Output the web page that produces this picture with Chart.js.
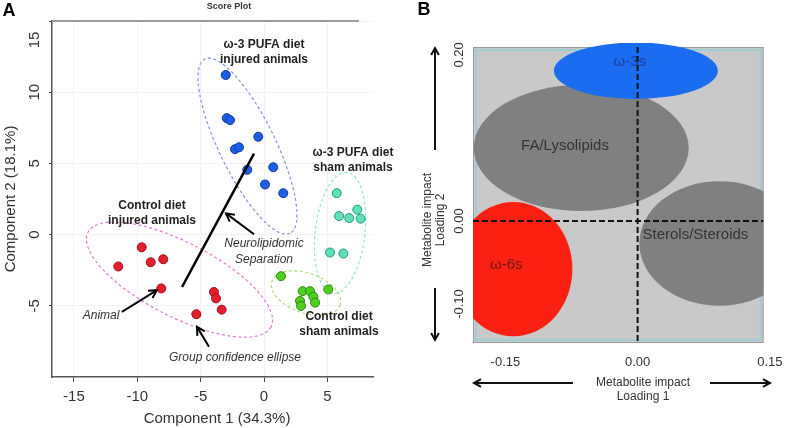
<!DOCTYPE html>
<html>
<head>
<meta charset="utf-8">
<script src="https://cdn.jsdelivr.net/npm/chart.js@4.4.0/dist/chart.umd.min.js"></script>
<style>
    body { margin: 0; background: #fff; }
    #wrap { position: relative; width: 794px; height: 428px; overflow: hidden; }
    #chartA { position: absolute; left: 0; top: 0; }
    #chartB { position: absolute; left: 400px; top: 0; }
</style>
</head>
<body>
<div id="wrap">
    <canvas id="chartA" width="400" height="428"></canvas>
    <canvas id="chartB" width="394" height="428"></canvas>
</div>
<script>
// ---------- Panel A : score plot ----------
const xTicksA = [-15, -10, -5, 0, 5];
const yTicksA = [-5, 0, 5, 10, 15];

const omega3Injured = [[-3.02, 11.21], [-2.94, 8.18], [-2.68, 8.04], [-0.45, 6.87], [-2.29, 6.00],
    [-1.97, 6.13], [0.73, 4.73], [-1.32, 4.55], [0.08, 3.52], [1.52, 2.91]];
const omega3Sham = [[5.74, 2.91], [7.36, 1.75], [5.92, 1.30], [6.73, 1.16], [7.63, 1.12],
    [5.21, -1.26], [6.26, -1.33]];
const controlSham = [[1.34, -2.92], [3.05, -3.97], [3.63, -3.97], [5.07, -3.85], [3.89, -4.36],
    [2.84, -4.66], [4.03, -4.78], [2.92, -5.01]];
const controlInjured = [[-9.65, -0.89], [-7.95, -1.73], [-8.94, -1.94], [-11.50, -2.24], [-8.11, -3.78],
    [-3.95, -4.03], [-3.79, -4.48], [-3.34, -5.27], [-5.34, -5.59]];

// confidence ellipses: major axis ends (x1, y1, x2, y2) + minor/major ratio
const ellipseOmega3Injured = [-4.66, 12.33, 2.05, 0.09, 0.29];
const ellipseOmega3Sham = [6.55, 4.36, 5.45, -4.11, 0.41];
const ellipseControlSham = [0.63, -3.27, 6.0, -4.94, 0.55];
const ellipseControlInjured = [-13.89, 0.16, 0.55, -6.48, 0.36];

// neurolipidomic separation axis
const separationLine = [[-6.47, -3.68], [-0.79, 5.69]];

// ---------- Panel B : loadings ----------
const xTicksB = [-0.15, 0, 0.15];
const xTickLabelsB = ['-0.15', '0.00', '0.15'];
const yTicksB = [-0.10, 0, 0.20];
const yTickLabelsB = ['-0.10', '0.00', '0.20'];

const lipidClasses = ['FA/Lysolipids', 'Sterols/Steroids', 'ω-3s', 'ω-6s'];
const loading1 = [-0.064, 0.093, -0.002, -0.141];
const loading2 = [0.088, -0.027, 0.181, -0.058];
const spread1 = [0.122, 0.091, 0.093, 0.067];
const spread2 = [0.076, 0.075, 0.034, 0.081];

const FONT = "'Liberation Sans', Arial, Helvetica, sans-serif";

function txt(ctx, str, px, py, font, color, align, rot) {
    ctx.save();
    ctx.translate(px, py);
    if (rot) ctx.rotate(rot);
    ctx.font = font;
    ctx.fillStyle = color;
    ctx.textAlign = align || 'center';
    ctx.textBaseline = 'middle';
    ctx.fillText(str, 0, 0);
    ctx.restore();
}

function arrow(ctx, x1, y1, x2, y2, head) {
    ctx.beginPath();
    ctx.moveTo(x1, y1);
    ctx.lineTo(x2, y2);
    ctx.stroke();
    const ang = Math.atan2(y2 - y1, x2 - x1);
    ctx.beginPath();
    ctx.moveTo(x2 - head * Math.cos(ang - 0.5), y2 - head * Math.sin(ang - 0.5));
    ctx.lineTo(x2, y2);
    ctx.lineTo(x2 - head * Math.cos(ang + 0.5), y2 - head * Math.sin(ang + 0.5));
    ctx.stroke();
}

// annotation text, placed in data units of panel A
const groupNotes = [
    { lines: ['ω-3 PUFA diet', 'injured animals'], at: [0.0, 13.31] },
    { lines: ['ω-3 PUFA diet', 'sham animals'], at: [7.02, 5.76] },
    { lines: ['Control diet', 'injured animals'], at: [-8.84, 2.05] },
    { lines: ['Control diet', 'sham animals'], at: [5.92, -5.78] }
];
const pointerNotes = [
    { lines: ['Neurolipidomic', 'Separation'], at: [0.0, -0.61], from: [-0.79, 0.02], to: [-3.0, 1.49] },
    { lines: ['Animal'], at: [-12.86, -5.71], from: [-11.21, -5.43], to: [-8.45, -3.9] },
    { lines: ['Group confidence ellipse'], at: [-2.29, -8.64], from: [-4.34, -7.88], to: [-5.29, -6.48] }
];

const scorePlotDecor = {
    id: 'scorePlotDecor',
    beforeDatasetsDraw(chart) {
        const { ctx, scales: { x, y } } = chart;
        const ellipses = [ellipseOmega3Injured, ellipseOmega3Sham, ellipseControlSham, ellipseControlInjured];
        const colors = ['#7d93df', '#8fe3dc', '#a8df72', '#e07ad8'];
        ctx.save();
        ctx.lineWidth = 1.2;
        ctx.setLineDash([3, 2.5]);
        ellipses.forEach((e, i) => {
            const x1 = x.getPixelForValue(e[0]), y1 = y.getPixelForValue(e[1]);
            const x2 = x.getPixelForValue(e[2]), y2 = y.getPixelForValue(e[3]);
            const a = Math.hypot(x2 - x1, y2 - y1) / 2;
            ctx.strokeStyle = colors[i];
            ctx.beginPath();
            ctx.ellipse((x1 + x2) / 2, (y1 + y2) / 2, a, a * e[4], Math.atan2(y2 - y1, x2 - x1), 0, Math.PI * 2);
            ctx.stroke();
        });
        ctx.restore();
    },
    afterDraw(chart) {
        const { ctx, chartArea: area, scales: { x, y } } = chart;
        ctx.save();

        // top frame line
        ctx.strokeStyle = '#9a9a9a';
        ctx.lineWidth = 2;
        ctx.beginPath();
        ctx.moveTo(area.left, area.top);
        ctx.lineTo(area.right - 14, area.top);
        ctx.stroke();

        // separation line
        ctx.strokeStyle = '#000';
        ctx.lineWidth = 2.5;
        ctx.beginPath();
        ctx.moveTo(x.getPixelForValue(separationLine[0][0]), y.getPixelForValue(separationLine[0][1]));
        ctx.lineTo(x.getPixelForValue(separationLine[1][0]), y.getPixelForValue(separationLine[1][1]));
        ctx.stroke();

        groupNotes.forEach(n => {
            const px = x.getPixelForValue(n.at[0]), py = y.getPixelForValue(n.at[1]);
            n.lines.forEach((s, k) => txt(ctx, s, px, py + k * 15, 'bold 12px ' + FONT, '#222'));
        });

        ctx.lineWidth = 2;
        pointerNotes.forEach(n => {
            const px = x.getPixelForValue(n.at[0]), py = y.getPixelForValue(n.at[1]);
            n.lines.forEach((s, k) => txt(ctx, s, px, py + k * 16, 'italic 12px ' + FONT, '#333'));
            arrow(ctx, x.getPixelForValue(n.from[0]), y.getPixelForValue(n.from[1]),
                x.getPixelForValue(n.to[0]), y.getPixelForValue(n.to[1]), 9);
        });

        // rotated y tick labels (top one kept inside the frame, as in the figure)
        yTicksA.forEach(v => {
            const py = Math.max(y.getPixelForValue(v), area.top + 19);
            txt(ctx, String(v), 35, py, '15px ' + FONT, '#333', 'center', -Math.PI / 2);
        });

        txt(ctx, 'Component 2 (18.1%)', 11, (area.top + area.bottom) / 2, '15px ' + FONT, '#333', 'center', -Math.PI / 2);
        txt(ctx, 'Component 1 (34.3%)', 217, 419, '15px ' + FONT, '#333');
        txt(ctx, 'Score Plot', 229, 7, 'bold 9px ' + FONT, '#333');
        txt(ctx, 'A', 9, 11, 'bold 18px ' + FONT, '#000');
        ctx.restore();
    }
};

function scoreSet(label, pts, fill, edge) {
    return {
        label: label,
        data: pts.map(p => ({ x: p[0], y: p[1] })),
        backgroundColor: fill,
        borderColor: edge,
        borderWidth: 1,
        pointRadius: 4.5
    };
}

new Chart(document.getElementById('chartA'), {
    type: 'scatter',
    data: {
        datasets: [
            scoreSet('ω-3 PUFA diet injured', omega3Injured, '#1c5fe6', '#0e3a9c'),
            scoreSet('ω-3 PUFA diet sham', omega3Sham, '#5fe0b8', '#22997a'),
            scoreSet('Control diet sham', controlSham, '#4fcf1f', '#2c8a12'),
            scoreSet('Control diet injured', controlInjured, '#e41f2d', '#9c1018')
        ]
    },
    options: {
        responsive: false,
        animation: false,
        layout: { padding: { top: 21, right: 27, left: 0, bottom: 0 } },
        plugins: { legend: { display: false }, tooltip: { enabled: false } },
        scales: {
            x: {
                type: 'linear', min: -16.73, max: 8.6,
                afterBuildTicks: s => { s.ticks = xTicksA.map(v => ({ value: v })); },
                afterFit: s => { s.height = 51; },
                grid: { color: '#f2f2f2', tickColor: '#444', tickLength: 5 },
                border: { color: '#555', width: 1.5 },
                ticks: { color: '#333', font: { family: FONT, size: 15 }, padding: 6, maxRotation: 0, minRotation: 0, autoSkip: false }
            },
            y: {
                type: 'linear', min: -10, max: 15,
                afterBuildTicks: s => { s.ticks = yTicksA.map(v => ({ value: v })); },
                afterFit: s => { s.width = 52; },
                grid: { color: '#f2f2f2', tickColor: '#444', tickLength: 3 },
                border: { color: '#555', width: 1.5 },
                ticks: { display: false }
            }
        }
    },
    plugins: [scorePlotDecor]
});

// ---------- Panel B ----------
const classColors = ['#808080', '#808080', '#1a6cf0', '#fb2012'];
const labelColors = ['#333', '#333', '#1b3d99', '#6b1a12'];
const classLabelAt = [[-0.0824, 0.0904, 'center'], [0.0055, -0.0169, 'left'], [-0.0088, 0.1916, 'center'], [-0.149, -0.053, 'center']];

const loadingDecor = {
    id: 'loadingDecor',
    beforeDatasetsDraw(chart) {
        const { ctx, chartArea: a, scales: { x, y } } = chart;
        ctx.save();
        ctx.fillStyle = '#c9c9c9';
        ctx.fillRect(a.left, a.top, a.width, a.height);
        ctx.strokeStyle = '#9a9a9a';
        ctx.lineWidth = 1;
        ctx.strokeRect(a.left + 0.5, a.top + 0.5, a.width - 1, a.height - 1);
        ctx.strokeStyle = '#8fd0d8';
        ctx.lineWidth = 1.5;
        ctx.strokeRect(a.left + 3, a.top + 3, a.width - 6, a.height - 6);

        ctx.beginPath();
        ctx.rect(a.left, a.top - 4, a.width, a.height + 4);
        ctx.clip();
        lipidClasses.forEach((name, i) => {
            const cx = x.getPixelForValue(loading1[i]);
            const cy = y.getPixelForValue(loading2[i]);
            const rx = Math.abs(x.getPixelForValue(loading1[i] + spread1[i]) - cx);
            const ry = Math.abs(y.getPixelForValue(loading2[i] + spread2[i]) - cy);
            ctx.fillStyle = classColors[i];
            ctx.beginPath();
            ctx.ellipse(cx, cy, rx, ry, 0, 0, Math.PI * 2);
            ctx.fill();
        });
        lipidClasses.forEach((name, i) => {
            const p = classLabelAt[i];
            txt(ctx, name, x.getPixelForValue(p[0]), y.getPixelForValue(p[1]), '15px ' + FONT, labelColors[i], p[2]);
        });

        // zero lines
        ctx.strokeStyle = '#111';
        ctx.lineWidth = 2;
        ctx.setLineDash([6, 3]);
        const x0 = x.getPixelForValue(0), y0 = y.getPixelForValue(0);
        ctx.beginPath();
        ctx.moveTo(x0, a.top);
        ctx.lineTo(x0, a.bottom);
        ctx.moveTo(a.left, y0);
        ctx.lineTo(a.right, y0);
        ctx.stroke();
        ctx.restore();
    },
    afterDraw(chart) {
        const { ctx, scales: { y } } = chart;
        ctx.save();
        yTicksB.forEach((v, i) => txt(ctx, yTickLabelsB[i], 59, y.getPixelForValue(v), '13px ' + FONT, '#333', 'center', -Math.PI / 2));

        txt(ctx, 'Metabolite impact', 28, 220, '12px ' + FONT, '#333', 'center', -Math.PI / 2);
        txt(ctx, 'Loading 2', 41, 220, '12px ' + FONT, '#333', 'center', -Math.PI / 2);
        txt(ctx, 'Metabolite impact', 243, 383, '12px ' + FONT, '#333');
        txt(ctx, 'Loading 1', 243, 397, '12px ' + FONT, '#333');

        ctx.strokeStyle = '#111';
        ctx.lineWidth = 2;
        arrow(ctx, 35, 150, 35, 48, 8);
        arrow(ctx, 35, 288, 35, 340, 8);
        arrow(ctx, 173, 383, 74, 383, 8);
        arrow(ctx, 310, 383, 370, 383, 8);

        txt(ctx, 'B', 24, 10, 'bold 18px ' + FONT, '#000');
        ctx.restore();
    }
};

new Chart(document.getElementById('chartB'), {
    type: 'scatter',
    data: {
        datasets: [{
            label: 'Lipid classes',
            data: lipidClasses.map((c, i) => ({ x: loading1[i], y: loading2[i] })),
            pointRadius: 0
        }]
    },
    options: {
        responsive: false,
        animation: false,
        layout: { padding: { top: 47, right: 21, left: 0, bottom: 0 } },
        plugins: { legend: { display: false }, tooltip: { enabled: false } },
        scales: {
            x: {
                type: 'linear', min: -0.1868, max: 0.1429,
                afterBuildTicks: s => { s.ticks = xTicksB.map(v => ({ value: v })); },
                afterFit: s => { s.height = 85; },
                grid: { display: false, drawTicks: false },
                border: { display: false },
                ticks: {
                    callback: (v, i) => xTickLabelsB[i],
                    color: '#333', font: { family: FONT, size: 13 }, padding: 12,
                    maxRotation: 0, minRotation: 0, autoSkip: false
                }
            },
            y: {
                type: 'linear', min: -0.147, max: 0.2096,
                afterBuildTicks: s => { s.ticks = yTicksB.map(v => ({ value: v })); },
                afterFit: s => { s.width = 73; },
                grid: { display: false, drawTicks: false },
                border: { display: false },
                ticks: { display: false }
            }
        }
    },
    plugins: [loadingDecor]
});
</script>
</body>
</html>
